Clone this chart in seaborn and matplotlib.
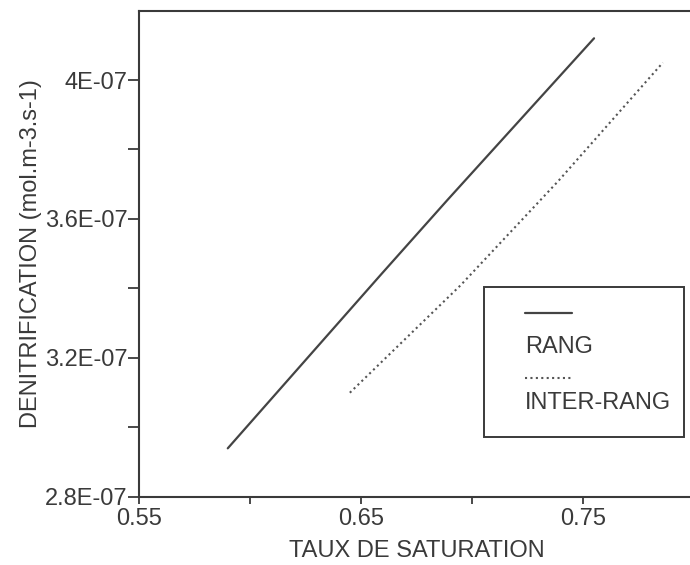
import numpy as np
import pandas as pd
import matplotlib
matplotlib.use("Agg")
import matplotlib.pyplot as plt
from matplotlib.patches import Rectangle
from matplotlib.ticker import FixedLocator
import seaborn as sns

# data
rang_x = [0.590, 0.659, 0.689, 0.755]
rang_y = [2.94e-07, 3.44e-07, 3.655e-07, 4.12e-07]
inter_x = [0.645, 0.695, 0.717, 0.739, 0.786]
inter_y = [3.10e-07, 3.41e-07, 3.56e-07, 3.71e-07, 4.05e-07]

x_ticks = [0.55, 0.65, 0.75]
x_ticklabels = ["0.55", "0.65", "0.75"]
x_minor = [0.60, 0.70]
y_ticks = [2.8e-07, 3.2e-07, 3.6e-07, 4.0e-07]
y_ticklabels = ["2.8E-07", "3.2E-07", "3.6E-07", "4E-07"]
y_minor = [3.0e-07, 3.4e-07, 3.8e-07]
series_names = ["RANG", "INTER-RANG"]

sns.set_theme(style="ticks")
plt.rcParams["font.family"] = ["Liberation Sans", "DejaVu Sans"]
ink = "#3a3a3a"

fig = plt.figure(figsize=(6.9, 5.65), dpi=100)
ax = fig.add_axes([0.2014, 0.1204, 0.8043, 0.861])

sns.lineplot(x=rang_x, y=rang_y, ax=ax, color="#444444", linewidth=1.6, sort=False)
sns.lineplot(x=inter_x, y=inter_y, ax=ax, color="#555555", linewidth=1.5,
             linestyle=(0, (1, 1.6)), sort=False)

ax.set_xlim(0.55, 0.80)
ax.set_ylim(2.8e-07, 4.2e-07)
ax.xaxis.set_major_locator(FixedLocator(x_ticks))
ax.set_xticklabels(x_ticklabels)
ax.xaxis.set_minor_locator(FixedLocator(x_minor))
ax.yaxis.set_major_locator(FixedLocator(y_ticks))
ax.set_yticklabels(y_ticklabels)
ax.yaxis.set_minor_locator(FixedLocator(y_minor))

ax.tick_params(axis="both", which="both", direction="out", color=ink, width=1.3,
               labelsize=17, labelcolor=ink)
ax.tick_params(axis="x", which="both", length=5, pad=3)
ax.tick_params(axis="y", which="both", length=8, pad=0)

for s in ax.spines.values():
    s.set_color(ink)
    s.set_linewidth(1.5)

ax.set_xlabel("TAUX DE SATURATION", fontsize=17, color=ink, labelpad=7)
ax.set_ylabel("DENITRIFICATION (mol.m-3.s-1)", fontsize=17, color=ink, labelpad=2)

# legend box (handles above labels, as in the original)
ax.add_patch(Rectangle((0.6216, 0.1233), 0.3604, 0.3084, transform=ax.transAxes,
                       fill=False, edgecolor=ink, linewidth=1.4, clip_on=False))
ax.plot([0.6955, 0.7802], [0.3782, 0.3782], transform=ax.transAxes,
        color="#444444", linewidth=1.6)
ax.text(0.6955, 0.3083, series_names[0], transform=ax.transAxes, fontsize=17,
        color=ink, va="center", ha="left")
ax.plot([0.6955, 0.7802], [0.2446, 0.2446], transform=ax.transAxes,
        color="#555555", linewidth=1.5, linestyle=(0, (1, 1.6)))
ax.text(0.6955, 0.1932, series_names[1], transform=ax.transAxes, fontsize=17,
        color=ink, va="center", ha="left")

fig.savefig("out.png", dpi=100)
